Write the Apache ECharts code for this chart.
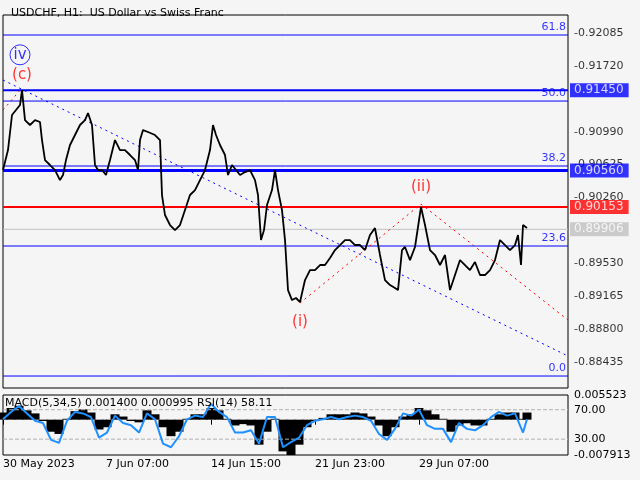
<!DOCTYPE html>
<html><head><meta charset="utf-8">
<script src="https://cdn.jsdelivr.net/npm/echarts@6/dist/echarts.min.js"></script>
<style>html,body{margin:0;background:#f5f5f5}#c{width:640px;height:480px}</style>
</head><body><div id="c"></div>
<script>
// price path: bar offset and close
var barIdx = [0,5,9,13,17,19,22,27,32,37,39,42,47,52,57,60,63,67,72,77,82,85,89,92,95,99,103,107,112,117,122,127,132,135,137,140,145,152,157,159,162,167,172,177,182,187,192,197,202,207,210,213,217,222,225,229,233,237,242,247,252,255,258,261,264,269,272,275,279,282,285,289,293,297,302,307,312,317,322,327,332,337,342,347,352,357,362,367,372,377,382,387,392,395,399,402,407,412,418,422,427,432,437,442,447,452,457,462,467,472,477,482,487,492,497,502,507,512,515,518,520,524];
var closes = [.90564,.90786,.91175,.91230,.91286,.91452,.91119,.91064,.91119,.91097,.90897,.90675,.90620,.90564,.90453,.90509,.90675,.90842,.90953,.91064,.91119,.91197,.91064,.90620,.90564,.90564,.90509,.90675,.90897,.90786,.90786,.90731,.90675,.90564,.90897,.91008,.90986,.90953,.90897,.90287,.90065,.89954,.89898,.89954,.90120,.90287,.90342,.90453,.90564,.90786,.91064,.90953,.90842,.90731,.90509,.90620,.90564,.90509,.90542,.90564,.90453,.90287,.89787,.89898,.90176,.90342,.90564,.90342,.90120,.89787,.89232,.89121,.89144,.89099,.89343,.89454,.89454,.89510,.89510,.89588,.89676,.89732,.89787,.89787,.89732,.89732,.89676,.89843,.89920,.89621,.89343,.89288,.89254,.89232,.89676,.89710,.89565,.89710,.90154,.89954,.89676,.89621,.89510,.89621,.89232,.89399,.89565,.89510,.89454,.89543,.89399,.89399,.89454,.89565,.89787,.89732,.89676,.89732,.89843,.89510,.89954,.89920];
// indicator pane, every 8 bars
var indIdx = [0,8,16,24,32,40,48,56,64,72,80,88,96,104,112,120,128,136,144,152,160,168,176,184,192,200,208,216,224,232,240,248,256,264,272,280,288,296,304,312,320,328,336,344,352,360,368,376,384,392,400,408,416,424,432,440,448,456,464,472,480,488,496,504,512,520,524];
var macd = [.0016,.0026,.0031,.0021,.0014,-.0003,-.0027,-.0032,.0002,.0019,.0023,.0016,-.0022,-.0017,.0012,.0007,-.0003,-.0006,.0021,.0012,-.0017,-.0037,-.0027,.0002,.0012,.0012,.0026,.0021,.0002,-.0013,-.0010,-.0013,-.0056,-.0027,.0002,-.0071,-.0080,-.0056,-.0017,-.0003,.0004,.0012,.0012,.0012,.0016,.0014,.0007,-.0013,-.0037,-.0017,.0007,.0012,.0026,.0021,.0012,.0002,-.0027,-.0013,-.0008,-.0013,-.0013,.0002,.0012,.0016,.0016,.0002,.0016];
var rsi = [57,67,75,65,55,52,29,25,55,67,65,60,32,39,62,52,49,39,65,57,24,19,34,57,62,60,78,67,60,39,39,42,24,60,60,19,26,32,49,55,57,60,57,60,62,60,55,37,29,44,65,62,70,49,44,44,26,52,44,42,49,60,67,62,65,39,57];
var priceTicks = [0.92085,0.91720,0.90990,0.90625,0.90260,0.89530,0.89165,0.88800,0.88435];
var fibLevels = [0.92063,0.91330,0.90609,0.89721,0.88278];
var fibNames = ['61.8','50.0','38.2','23.6','0.0'];
var timeTicks = [0,103,208,312,416];
var timeLabels = ['30 May 2023','7 Jun 07:00','14 Jun 15:00','21 Jun 23:00','29 Jun 07:00'];
var blueTrend = [[0,.91563],[565,.88500]];
var redWave = [[297,.89088],[418,.90187],[565,.88899]];
var redLead = [[0,.91230],[19,.91475]];
var levelVals = [0.91450, 0.90560, 0.90153, 0.89906];
var levelColors = ['#0000ff', '#0000ff', '#ff0000', '#c0c0c0'];
var levelWidths = [2, 3, 2, 1];

var F = 'DejaVu Sans';
var XMAX = 565;
var series = [];

function hline(v, color, w) {
  series.push({ type: 'line', xAxisIndex: 0, yAxisIndex: 0, symbol: 'none', silent: true,
    data: [[0, v], [XMAX, v]], lineStyle: { color: color, width: w } });
}
fibLevels.forEach(function (v) { hline(v, '#0000ff', 1); });
levelVals.forEach(function (v, i) { hline(v, levelColors[i], levelWidths[i]); });

series.push({ type: 'line', xAxisIndex: 0, yAxisIndex: 0, data: blueTrend, symbol: 'none', silent: true,
  lineStyle: { color: '#0000ff', width: 1, type: [2, 4] } });
series.push({ type: 'line', xAxisIndex: 0, yAxisIndex: 0, data: redWave, symbol: 'none', silent: true,
  lineStyle: { color: '#ff0000', width: 1, type: [2, 4] } });
series.push({ type: 'line', xAxisIndex: 0, yAxisIndex: 0, data: redLead, symbol: 'none', silent: true,
  lineStyle: { color: '#ff0000', width: 1, type: [2, 4] } });
series.push({ type: 'line', xAxisIndex: 0, yAxisIndex: 0, symbol: 'none',
  data: barIdx.map(function (x, i) { return [x, closes[i]]; }),
  lineStyle: { color: '#000', width: 1.8 } });

// right price scale labels
series.push({ type: 'scatter', xAxisIndex: 0, yAxisIndex: 0, silent: true, symbolSize: 0,
  data: priceTicks.map(function (v) { return [XMAX, v]; }),
  label: { show: true, position: 'right', distance: 6, color: '#000', fontSize: 11, fontFamily: F,
    formatter: function (p) { return '-' + p.value[1].toFixed(5); } } });
// fib names
series.push({ type: 'scatter', xAxisIndex: 0, yAxisIndex: 0, silent: true, symbolSize: 0,
  data: fibLevels.map(function (v, i) { return { value: [XMAX, v], name: fibNames[i] }; }),
  label: { show: true, position: 'left', offset: [-2, -8], distance: 0, color: '#0000ff', fontSize: 11, fontFamily: F,
    formatter: '{b}' } });
// boxed level labels
series.push({ type: 'scatter', xAxisIndex: 0, yAxisIndex: 0, silent: true, symbolSize: 0, z: 5,
  data: levelVals.map(function (v, i) {
    return { value: [XMAX, v], label: { backgroundColor: levelColors[i] } };
  }),
  label: { show: true, position: 'right', distance: 2, color: '#fff', fontSize: 12, fontFamily: F, padding: [1, 5, 1, 4],
    formatter: function (p) { return p.value[1].toFixed(5); } } });

var waveLabels = [
  { value: [17, .91843], name: 'iv', c: '#0000ff', ring: true },
  { value: [19, .91619], name: '(c)', c: '#ff0000' },
  { value: [418, .90376], name: '(ii)', c: '#ff0000' },
  { value: [297, .88877], name: '(i)', c: '#ff0000' }
];
series.push({ type: 'scatter', xAxisIndex: 0, yAxisIndex: 0, silent: true,
  data: waveLabels.map(function (d) {
    return { value: d.value, symbolSize: d.ring ? 20 : 0,
      itemStyle: { color: 'rgba(0,0,0,0)', borderColor: d.c, borderWidth: 1 },
      label: { show: true, position: 'inside', formatter: d.name, color: d.c, fontSize: 15, fontFamily: F } };
  }) });

series.push({ type: 'bar', xAxisIndex: 1, yAxisIndex: 1, barWidth: 9,
  data: indIdx.map(function (x, i) { return [x, macd[i]]; }), itemStyle: { color: '#000' } });
series.push({ type: 'line', xAxisIndex: 1, yAxisIndex: 2, symbol: 'none', silent: true,
  data: [[0, 70], [XMAX, 70]], lineStyle: { color: '#b0b0b0', type: 'dashed', width: 1 } });
series.push({ type: 'line', xAxisIndex: 1, yAxisIndex: 2, symbol: 'none', silent: true,
  data: [[0, 30], [XMAX, 30]], lineStyle: { color: '#b0b0b0', type: 'dashed', width: 1 } });
series.push({ type: 'line', xAxisIndex: 1, yAxisIndex: 2, symbol: 'none',
  data: indIdx.map(function (x, i) { return [x, rsi[i]]; }),
  lineStyle: { color: '#1e90ff', width: 2 } });

var chart = echarts.init(document.getElementById('c'));
chart.setOption({
  backgroundColor: '#f5f5f5',
  animation: false,
  textStyle: { fontFamily: F },
  title: { text: 'USDCHF, H1:  US Dollar vs Swiss Franc', left: 6, top: 3,
    textStyle: { fontSize: 11, fontWeight: 'normal', color: '#000', fontFamily: F } },
  graphic: [{ type: 'text', left: 5, top: 398, z: 10,
    style: { text: 'MACD(5,34,5) 0.001400 0.000995 RSI(14) 58.11', fontSize: 11, fontFamily: F, fill: '#000' } }],
  grid: [
    { left: 3, right: 72, top: 15, height: 373, show: true, borderColor: '#000', borderWidth: 1 },
    { left: 3, right: 72, top: 395, height: 60, show: true, borderColor: '#000', borderWidth: 1 }
  ],
  xAxis: [
    { type: 'value', gridIndex: 0, min: 0, max: XMAX, axisLabel: { show: false }, axisTick: { show: false },
      axisLine: { show: false }, splitLine: { show: false } },
    { type: 'value', gridIndex: 1, min: 0, max: XMAX, axisLine: { show: false }, splitLine: { show: false },
      axisTick: { show: true, customValues: timeTicks, length: 5, lineStyle: { color: '#000' } },
      axisLabel: { customValues: timeTicks, align: 'left', margin: 4, color: '#000', fontSize: 11, fontFamily: F,
        formatter: function (v) { return timeLabels[timeTicks.indexOf(v)]; } } }
  ],
  yAxis: [
    { type: 'value', gridIndex: 0, position: 'right', min: 0.88145, max: 0.92285,
      axisLabel: { show: false }, axisTick: { show: false }, axisLine: { show: false }, splitLine: { show: false } },
    { type: 'value', gridIndex: 1, position: 'right', min: -0.007913, max: 0.005523,
      axisLine: { show: false }, splitLine: { show: false }, axisTick: { show: false },
      axisLabel: { customValues: [-0.007913, 0.005523], color: '#000', fontSize: 11, fontFamily: F, margin: 6,
        formatter: function (v) { return v.toFixed(6); } } },
    { type: 'value', gridIndex: 1, position: 'right', min: 8.5, max: 90,
      axisLine: { show: false }, axisTick: { show: false }, splitLine: { show: false },
      axisLabel: { customValues: [30, 70], color: '#000', fontSize: 11, fontFamily: F, margin: 6,
        formatter: function (v) { return v.toFixed(2); } } }
  ],
  series: series
});
</script></body></html>
